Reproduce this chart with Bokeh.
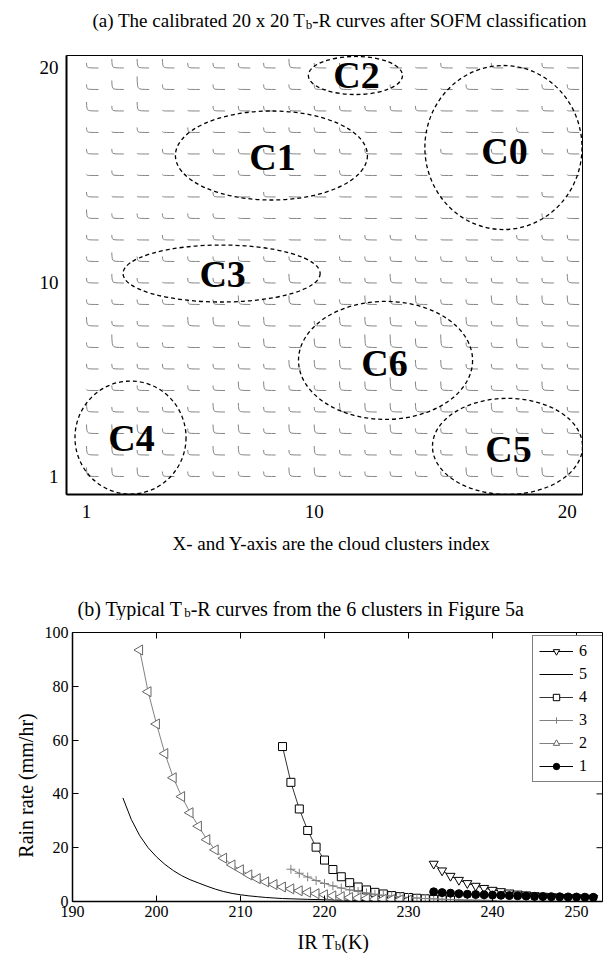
import math
from bokeh.plotting import figure
from bokeh.layouts import column, row
from bokeh.models import Range1d, FixedTicker, Label, Legend, LegendItem
from bokeh.core.properties import value
from bokeh.embed import file_html
from bokeh.resources import INLINE

SERIF = "Liberation Serif"
NARROW = "Liberation Sans Narrow"

# ---------------- data: panel (a) ----------------
# curve "steepness level" (0 = flat .. 3 = tall L) for each SOFM node, top row (20) first, columns 1..20
CELL_LEVELS = [
    [1,2,2,2,1,1,1,1,2,1, 1,1,0,0,1,0,1,0,1,0],
    [1,2,3,1,0,1,0,1,1,1, 1,1,1,0,0,1,0,0,1,1],
    [2,1,2,0,0,1,1,1,1,1, 1,1,1,1,0,0,0,0,1,0],
    [1,0,1,0,1,0,0,1,1,1, 1,0,0,0,0,0,0,1,0,1],
    [1,1,0,1,0,1,1,1,1,1, 1,1,0,0,1,0,1,0,1,1],
    [0,1,0,0,0,0,1,1,0,0, 1,0,0,0,0,0,0,0,0,0],
    [1,0,0,0,0,1,0,1,0,0, 0,0,0,0,0,0,0,0,1,0],
    [2,1,1,1,1,1,0,0,0,0, 0,0,0,0,0,0,0,0,1,0],
    [1,1,0,1,0,1,0,0,0,0, 1,1,1,1,0,0,0,1,1,1],
    [1,2,1,1,1,1,1,1,1,0, 1,1,1,1,1,1,1,1,1,1],
    [1,2,1,0,1,1,1,1,2,0, 1,1,2,1,1,1,1,1,1,2],
    [1,1,1,1,1,1,2,1,2,1, 1,2,2,2,1,1,2,2,2,2],
    [2,1,1,0,2,2,1,2,0,1, 2,2,2,1,2,2,1,2,1,1],
    [1,3,1,1,0,0,1,2,0,2, 2,3,3,2,3,1,1,2,1,1],
    [1,1,1,1,1,1,1,1,2,2, 2,2,3,2,2,1,1,1,1,1],
    [0,1,1,0,1,1,2,2,1,1, 2,2,3,2,2,1,1,1,2,1],
    [2,1,1,1,1,2,2,1,1,1, 2,2,2,2,1,1,2,1,1,1],
    [2,2,2,1,1,2,2,1,2,2, 1,2,2,1,1,1,1,1,1,1],
    [2,2,1,1,1,2,2,1,1,2, 1,1,1,1,1,2,1,2,1,1],
    [2,2,2,1,1,1,1,1,2,2, 1,1,1,1,1,2,2,2,2,2],
]
CLUSTER_NAMES = ["C0", "C1", "C2", "C3", "C4", "C5", "C6"]
CLUSTER_X = [17.48, 8.31, 11.63, 6.34, 2.74, 17.64, 12.82]
CLUSTER_Y = [16.30, 15.93, 19.65, 10.44, 2.81, 2.40, 6.40]
CLUSTER_W = [6.21, 7.59, 3.72, 7.79, 4.39, 5.93, 6.88]
CLUSTER_H = [7.63, 4.14, 1.77, 2.65, 5.26, 4.47, 5.49]
CLUSTER_LABEL_X = [17.52, 8.35, 11.67, 6.38, 2.78, 17.68, 12.78]
CLUSTER_LABEL_Y = [16.16, 15.84, 19.65, 10.40, 2.77, 2.30, 6.30]
A_TICKS = [1, 10, 20]

# ---------------- data: panel (b) ----------------
T6 = list(range(233, 253))
R6 = [14.0, 11.5, 9.5, 8.0, 6.8, 5.8, 5.0, 4.3, 3.8, 3.3, 2.9, 2.6, 2.3, 2.1, 1.9, 1.7, 1.6, 1.5, 1.4, 1.3]
T5 = list(range(196, 216)) + [218, 222, 226, 232, 240, 252]
R5 = [38.5, 30.5, 24.5, 20.0, 16.6, 13.8, 11.5, 9.6, 8.1, 6.9, 5.7, 4.6, 3.7, 3.0, 2.5, 2.1, 1.8, 1.5, 1.3, 1.1,
      0.8, 0.5, 0.3, 0.15, 0.08, 0.04]
T4 = list(range(215, 236))
R4 = [57.6, 44.3, 34.4, 26.4, 20.2, 15.4, 11.9, 9.2, 7.0, 5.4, 4.3, 3.4, 2.8, 2.2, 1.8, 1.5, 1.2, 1.0, 0.8, 0.7, 0.6]
T3 = list(range(216, 241))
R3 = [12.0, 10.5, 9.1, 7.8, 6.7, 5.8, 5.0, 4.3, 3.7, 3.2, 2.7, 2.3, 2.0, 1.7, 1.5, 1.3, 1.1, 1.0, 0.85, 0.75,
      0.65, 0.55, 0.5, 0.45, 0.4]
T2 = list(range(198, 231))
R2 = [93.5, 78.0, 66.0, 55.0, 46.0, 39.0, 33.0, 28.0, 23.0, 19.2, 16.1, 13.6, 11.8, 9.9, 8.5, 7.3, 6.3, 5.4,
      4.7, 4.0, 3.4, 2.9, 2.5, 2.1, 1.8, 1.5, 1.3, 1.1, 0.9, 0.8, 0.7, 0.6, 0.5]
T1 = list(range(233, 253))
R1 = [3.6, 3.3, 3.1, 2.9, 2.7, 2.6, 2.5, 2.4, 2.3, 2.2, 2.1, 2.0, 1.9, 1.85, 1.8, 1.75, 1.7, 1.65, 1.6, 1.55]
B_XTICKS = [190, 200, 210, 220, 230, 240, 250]
B_YTICKS = [0, 20, 40, 60, 80, 100]

# ---------------- layout (page pixels) ----------------
W = 605
SA_TOP, PA_TOP, SM_TOP, PB_TOP, SC_TOP, PAGE_BOTTOM = 0, 40, 530, 620, 926, 953
SL_W = 40
A_L, A_R, A_T, A_B = 66, 582, 55, 494
A_X0, A_X1, A_Y0, A_Y1 = 0.21, 20.605, 0.163, 20.58
B_L, B_R, B_T, B_B = 72, 602, 632, 901
B_X0, B_Y0, B_Y1 = 190.0, 0.0, 100.0
B_X1 = B_X0 + (B_R - B_L) / 8.4


def strip(w, h, top=0, bottom=0):
    """Text-only canvas whose data coordinates are its own pixels (y grows downwards)."""
    s = figure(width=w, height=h, x_range=Range1d(0, w), y_range=Range1d(h - bottom, top),
               output_backend="svg", toolbar_location=None, title=None, min_border=0,
               min_border_top=top, min_border_bottom=bottom,
               x_axis_location=None, y_axis_location=None)
    s.outline_line_color = None
    s.grid.visible = False
    s.background_fill_color = None
    s.border_fill_color = None
    return s


def put(fig, x, y, text, size, **kw):
    fig.add_layout(Label(x=x, y=y, text=text, text_font=SERIF, text_font_size=f"{size}px",
                         text_color="black", **kw))


def put_sub(fig, x, y, pieces):
    """pieces: (text, font px, baseline shift px, width in em); strip coords (y down)."""
    cur = x
    for text, size, dy, em in pieces:
        put(fig, cur, y + dy, text, size, text_align="left", text_baseline="alphabetic")
        cur += em * size


# ---------------- title strip (a) ----------------
sa = strip(W, PA_TOP - SA_TOP)
put_sub(sa, 92, 20 - SA_TOP, [("(a) The calibrated 20 x 20 T", 19, 0, 11.219),
                              ("b", 13, 4, 0.5),
                              ("-R curves after SOFM classification", 19, 0, 14.444)])

# ---------------- panel (a) ----------------
pa = figure(width=W, height=SM_TOP - PA_TOP, x_range=Range1d(A_X0, A_X1), y_range=Range1d(A_Y0, A_Y1),
            output_backend="svg", toolbar_location=None, title=None,
            min_border_left=A_L, min_border_right=W - A_R,
            min_border_top=A_T - PA_TOP, min_border_bottom=SM_TOP - A_B)
pa.grid.visible = False
pa.outline_line_color = "black"
pa.outline_line_width = 1
for axis in (pa.xaxis[0], pa.yaxis[0]):
    axis.ticker = FixedTicker(ticks=A_TICKS)
    axis.major_tick_in = 0
    axis.major_tick_out = 0
    axis.minor_tick_line_color = None
    axis.axis_line_width = 2
    axis.major_label_text_font = SERIF
    axis.major_label_text_font_size = "19px"
    axis.major_label_text_color = "black"
pa.xaxis.major_label_standoff = 10
pa.yaxis.major_label_standoff = 8

SHAPE_U = [0.0, 0.015, 0.04, 0.09, 0.18, 0.35, 0.65, 1.0]
SHAPE_V = [1.0, 0.60, 0.32, 0.15, 0.06, 0.02, 0.005, 0.0]
LEVEL_PX = [1.0, 5.0, 9.0, 13.0]
CURVE_W_PX = 12.0
upx = (A_R - A_L) / (A_X1 - A_X0)
vpx = (A_B - A_T) / (A_Y1 - A_Y0)
xs, ys = [], []
n_rows = len(CELL_LEVELS)
for ri, row_levels in enumerate(CELL_LEVELS):
    r = n_rows - ri
    for ci, lev in enumerate(row_levels):
        c = ci + 1
        h = LEVEL_PX[lev] / vpx
        xs.append([c + u * CURVE_W_PX / upx for u in SHAPE_U])
        ys.append([r + h * v for v in SHAPE_V])
pa.multi_line(xs, ys, line_color="#858585", line_width=1)

pa.ellipse(x=CLUSTER_X, y=CLUSTER_Y, width=CLUSTER_W, height=CLUSTER_H, fill_color=None,
           line_color="black", line_dash="4 3", line_width=1.3)
pa.text(x=CLUSTER_LABEL_X, y=CLUSTER_LABEL_Y, text=CLUSTER_NAMES, text_font=value(SERIF),
        text_font_style="bold", text_font_size="38px", text_align="center", text_baseline="middle",
        text_color="black")

# ---------------- middle strip: x title (a) + title (b) ----------------
sm = strip(W, PB_TOP - SM_TOP)
put(sm, 331, 543 - SM_TOP, "X- and Y-axis are the cloud clusters index", 19,
    text_align="center", text_baseline="middle")
put_sub(sm, 77, 608 - SM_TOP, [("(b) Typical T", 20, 0, 5.332),
                               ("b", 13, 4, 0.5),
                               ("-R curves from the 6 clusters in Figure 5a", 20, 0, 16.664)])

# ---------------- left strip: y title (b) (borders match panel b so rows align) ----------------
sl = strip(SL_W, SC_TOP - PB_TOP, top=B_T - PB_TOP, bottom=SC_TOP - B_B)
put(sl, 25, 785 - PB_TOP, "Rain rate (mm/hr)", 20, text_align="center", text_baseline="middle",
    angle=math.pi / 2)

# ---------------- panel (b) ----------------
pb = figure(width=W - SL_W, height=SC_TOP - PB_TOP, x_range=Range1d(B_X0, B_X1),
            y_range=Range1d(B_Y0, B_Y1), output_backend="svg", toolbar_location=None, title=None,
            min_border_left=B_L - SL_W, min_border_right=W - B_R,
            min_border_top=B_T - PB_TOP, min_border_bottom=SC_TOP - B_B)
pb.grid.visible = False
pb.outline_line_color = "black"
pb.outline_line_width = 1
pb.xaxis.ticker = FixedTicker(ticks=B_XTICKS)
pb.yaxis.ticker = FixedTicker(ticks=B_YTICKS)
for axis in (pb.xaxis[0], pb.yaxis[0]):
    axis.major_tick_in = 6
    axis.major_tick_out = 0
    axis.minor_tick_line_color = None
    axis.axis_line_width = 1.5
    axis.major_label_text_font = NARROW
    axis.major_label_text_font_size = "16px"
    axis.major_label_text_color = "black"
pb.xaxis.major_label_standoff = 4
pb.yaxis.major_label_standoff = 4

# inward ticks on the top and right frame edges
tick_dx = 6 * (B_X1 - B_X0) / (B_R - B_L)
tick_dy = 6 * (B_Y1 - B_Y0) / (B_B - B_T)
inner_x = [t for t in B_XTICKS if B_X0 < t < B_X1]
pb.segment(x0=inner_x, y0=[B_Y1] * len(inner_x), x1=inner_x, y1=[B_Y1 - tick_dy] * len(inner_x),
           line_color="black", line_width=1)
pb.segment(x0=[B_X1] * len(B_YTICKS), y0=B_YTICKS, x1=[B_X1 - tick_dx] * len(B_YTICKS), y1=B_YTICKS,
           line_color="black", line_width=1)

GREY = "#808080"
l6 = pb.line(T6, R6, line_color="black", line_width=1)
s6 = pb.scatter(T6, R6, marker="inverted_triangle", size=9, fill_color="white", line_color="black")
l5 = pb.line(T5, R5, line_color="black", line_width=1)
l4 = pb.line(T4, R4, line_color="#333333", line_width=1)
s4 = pb.scatter(T4, R4, marker="square", size=8, fill_color="white", line_color="black")
l3 = pb.line(T3, R3, line_color=GREY, line_width=1)
s3 = pb.scatter(T3, R3, marker="cross", size=9, line_color=GREY)
l2 = pb.line(T2, R2, line_color=GREY, line_width=1)
s2 = pb.scatter(T2, R2, marker="triangle", angle=math.pi / 2, size=10, fill_color="white",
                line_color="#666666")
l1 = pb.line(T1, R1, line_color="black", line_width=1)
s1 = pb.scatter(T1, R1, marker="circle", size=8, fill_color="black", line_color="black")

legend = Legend(items=[LegendItem(label="6", renderers=[l6, s6]),
                       LegendItem(label="5", renderers=[l5]),
                       LegendItem(label="4", renderers=[l4, s4]),
                       LegendItem(label="3", renderers=[l3, s3]),
                       LegendItem(label="2", renderers=[l2, s2]),
                       LegendItem(label="1", renderers=[l1, s1])],
                location=(532 - B_L, B_B - 782), border_line_color="black", border_line_width=1,
                background_fill_color="white", background_fill_alpha=1.0,
                label_text_font=NARROW, label_text_font_size="16px", label_text_color="black",
                glyph_width=34, glyph_height=16, label_height=16, spacing=5, padding=6, margin=0,
                label_standoff=6)
pb.add_layout(legend)

# ---------------- bottom strip: x title (b) ----------------
sc = strip(W, PAGE_BOTTOM - SC_TOP)
put_sub(sc, 297, 941 - SC_TOP, [("IR T", 20, 0, 1.861),
                                ("b", 13, 4, 0.5),
                                ("(K)", 20, 0, 1.388)])

layout = column(row(sa), pa, row(sm), row(sl, pb, spacing=0), row(sc), spacing=0)
open("out.html", "w").write(file_html(layout, INLINE))
